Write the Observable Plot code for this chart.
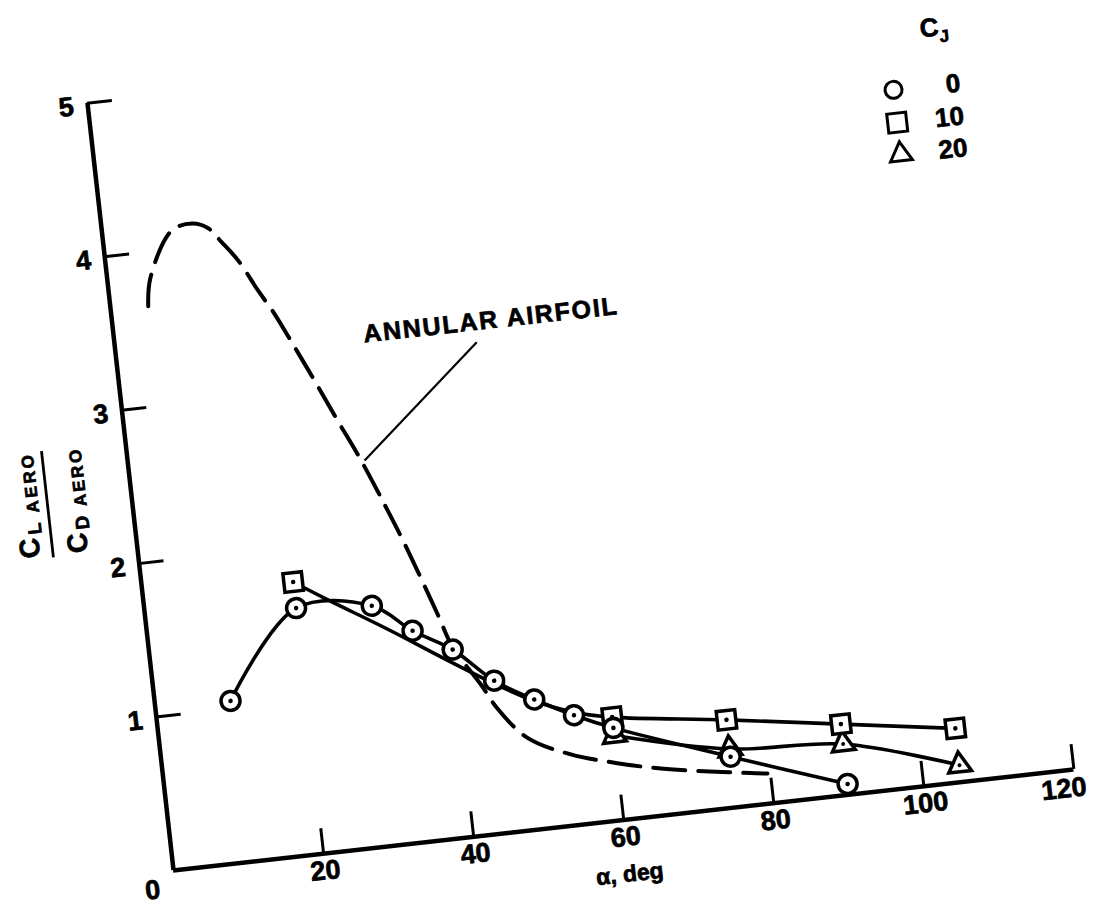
<!DOCTYPE html>
<html>
<head>
<meta charset="utf-8">
<script src="https://cdn.jsdelivr.net/npm/d3@7"></script>
<script src="https://cdn.jsdelivr.net/npm/@observablehq/plot@0.6"></script>
<style>
  html, body { margin: 0; padding: 0; background: #fff; overflow: hidden; width: 1095px; height: 912px; }
  #wrap { position: absolute; left: 0; top: 0; width: 1095px; height: 960px;
          transform-origin: 173px 870px; transform: rotate(-6.4deg); }
  svg { font-family: "Liberation Sans", Arial, sans-serif; font-weight: bold; }
  svg text { stroke: black; stroke-width: 0.7px; }
</style>
</head>
<body>
<div id="wrap"></div>
<script>
// ---- data (alpha in deg, C_L/C_D aero) ----
const alphaCJ0 = [10, 20, 30, 35, 40, 45, 50, 55, 60, 75, 90];
const ldCJ0    = [1.05, 1.60, 1.56, 1.37, 1.22, 0.99, 0.84, 0.71, 0.60, 0.33, 0.07];

const alphaCJ10 = [20, 60, 75, 90, 105];
const ldCJ10    = [1.77, 0.67, 0.57, 0.46, 0.35];
// faired curve drawn through the C_J = 10 data
const alphaCJ10Fair = [20, 24, 32, 39, 45, 50, 55, 60, 75, 90, 105];
const ldCJ10Fair    = [1.77, 1.64, 1.39, 1.16, 0.97, 0.83, 0.73, 0.67, 0.57, 0.46, 0.35];

const alphaCJ20 = [60, 75, 90, 105];
const ldCJ20    = [0.55, 0.38, 0.33, 0.11];

// annular airfoil (dashed curve)
const alphaAnnular = [5, 5.7, 9.2, 12, 14, 15.6, 17.5, 19.7, 21.5, 23.3, 25.8, 28.3, 30.6, 33.2, 35.2, 38.6, 40, 43.2, 45, 48.5, 54, 60, 66, 72, 77.4, 79.6];
const ldAnnular    = [3.65, 3.83, 4.12, 4.15, 4.11, 4.01, 3.88, 3.67, 3.51, 3.32, 3.05, 2.77, 2.52, 2.20, 1.94, 1.45, 1.24, 0.975, 0.81, 0.60, 0.46, 0.37, 0.30, 0.25, 0.21, 0.195];

// annotation
const annotationLabel = ["ANNULAR AIRFOIL"];
const annotationAlpha = [32.9];
const annotationLD    = [3.26];
const leaderFrom = [47.7, 3.18];
const leaderTo   = [31.2, 2.50];

const xTicks = [0, 20, 40, 60, 80, 100, 120];
const yTicks = [1, 2, 3, 4, 5];
const xLabel = "α, deg";
const legendTitle = "C";
const legendTitleSub = "J";
const legendValues = ["0", "10", "20"];
const legendSymbols = ["circle", "square", "triangle"];

// ---- tables ----
const zip = (a, b) => a.map((v, i) => ({alpha: v, ld: b[i]}));
const cj0 = zip(alphaCJ0, ldCJ0);
const cj10 = zip(alphaCJ10, ldCJ10);
const cj10Fair = zip(alphaCJ10Fair, ldCJ10Fair);
const cj20 = zip(alphaCJ20, ldCJ20);
const annular = zip(alphaAnnular, ldAnnular);

const W = 1095, H = 960, mL = 173, mT = 98, mB = 90, mR = 16;
const innerW = W - mL - mR, innerH = H - mT - mB;
const tickLen = 25;
const lastX = xTicks[xTicks.length - 1];

const chart = Plot.plot({
  width: W, height: H,
  marginLeft: mL, marginTop: mT, marginBottom: mB, marginRight: mR,
  x: {domain: [0, 120], axis: null},
  y: {domain: [0, 5], axis: null},
  style: {background: "white", color: "black", overflow: "visible"},
  marks: [
    // axes
    Plot.ruleY([0], {stroke: "black", strokeWidth: 4.5}),
    Plot.ruleX([0], {stroke: "black", strokeWidth: 4.5}),
    Plot.tickX(xTicks.filter(d => d > 0), {x: d => d, insetTop: innerH - tickLen, stroke: "black", strokeWidth: 3}),
    Plot.tickY(yTicks, {y: d => d, insetRight: innerW - tickLen, stroke: "black", strokeWidth: 3}),
    Plot.text(xTicks.filter(d => d > 0 && d < lastX), {x: d => d, frameAnchor: "bottom", dy: 26, text: d => String(d), fontSize: 27, fontWeight: "bold"}),
    Plot.text([lastX], {x: d => d, frameAnchor: "bottom", dx: -12, dy: 27, text: d => String(d), fontSize: 27, fontWeight: "bold"}),
    Plot.text([xTicks[0]], {x: d => d, frameAnchor: "bottom", dx: -23, dy: 26, text: d => String(d), fontSize: 27, fontWeight: "bold"}),
    Plot.text(yTicks, {y: d => d, frameAnchor: "left", dx: -14, dy: 2, textAnchor: "end", text: d => String(d), fontSize: 27, fontWeight: "bold"}),
    Plot.text([xLabel], {frameAnchor: "bottom", dy: 62, text: d => d, fontSize: 23, fontWeight: "bold"}),

    // annular airfoil dashed curve
    Plot.line(annular, {x: "alpha", y: "ld", curve: "catmull-rom", stroke: "black", strokeWidth: 4, strokeDasharray: "32,13"}),
    Plot.link([0], {x1: () => leaderFrom[0], y1: () => leaderFrom[1], x2: () => leaderTo[0], y2: () => leaderTo[1], stroke: "black", strokeWidth: 2.2}),
    Plot.text(annotationLabel, {x: (d, i) => annotationAlpha[i], y: (d, i) => annotationLD[i], text: d => d, textAnchor: "start", lineAnchor: "bottom", fontSize: 25, fontWeight: "bold"}),

    // curves
    Plot.line(cj10Fair, {x: "alpha", y: "ld", curve: "catmull-rom", stroke: "black", strokeWidth: 3.6}),
    Plot.line(cj20, {x: "alpha", y: "ld", curve: "catmull-rom", stroke: "black", strokeWidth: 3.6}),
    Plot.line(cj0, {x: "alpha", y: "ld", curve: "catmull-rom", stroke: "black", strokeWidth: 3.6}),

    // symbols
    Plot.dot(cj20, {x: "alpha", y: "ld", symbol: "triangle", r: 8.5, fill: "white", stroke: "black", strokeWidth: 3.5}),
    Plot.dot(cj20, {x: "alpha", y: "ld", r: 2, fill: "black"}),
    Plot.dot(cj10, {x: "alpha", y: "ld", symbol: "square", r: 10.5, fill: "white", stroke: "black", strokeWidth: 3.5}),
    Plot.dot(cj10, {x: "alpha", y: "ld", r: 2.3, fill: "black"}),
    Plot.dot(cj0, {x: "alpha", y: "ld", r: 9.5, fill: "white", stroke: "black", strokeWidth: 3.5}),
    Plot.dot(cj0, {x: "alpha", y: "ld", r: 2.3, fill: "black"})
  ]
});

document.getElementById("wrap").appendChild(chart);

const svg = d3.select(chart);

// letter spacing for the annotation text
svg.selectAll("text").filter(function() { return this.textContent === annotationLabel[0]; })
  .style("letter-spacing", "1.8px");

// y-axis label: C_L AERO / C_D AERO (fraction, rotated)
const yl = svg.append("g").attr("transform", "translate(89,493) rotate(-90)")
  .attr("font-family", "Liberation Sans, Arial, sans-serif").attr("font-weight", "bold");
yl.append("line").attr("x1", -53).attr("x2", 54).attr("y1", 0).attr("y2", 0)
  .attr("stroke", "black").attr("stroke-width", 2.8);
const num = yl.append("text").attr("text-anchor", "middle").attr("x", 0).attr("y", -13)
  .attr("textLength", 103).attr("lengthAdjust", "spacing");
num.append("tspan").attr("font-size", 28).text("C");
num.append("tspan").attr("font-size", 19).attr("dy", 4).text("L");
num.append("tspan").attr("font-size", 17).text(" AERO");
const den = yl.append("text").attr("text-anchor", "middle").attr("x", 0).attr("y", 35)
  .attr("textLength", 103).attr("lengthAdjust", "spacing");
den.append("tspan").attr("font-size", 28).text("C");
den.append("tspan").attr("font-size", 19).attr("dy", 4).text("D");
den.append("tspan").attr("font-size", 17).text(" AERO");

// legend (top right)
const lg = svg.append("g").attr("font-family", "Liberation Sans, Arial, sans-serif").attr("font-weight", "bold");
const lt = lg.append("text").attr("x", 1023).attr("y", 126).attr("text-anchor", "middle");
lt.append("tspan").attr("font-size", 26).text(legendTitle);
lt.append("tspan").attr("font-size", 17).attr("dy", 7).text(legendTitleSub);
const symMap = {circle: d3.symbolCircle, square: d3.symbolSquare, triangle: d3.symbolTriangle};
const symArea = {circle: Math.PI * 8.5 * 8.5, square: 19 * 19, triangle: Math.sqrt(3) / 4 * 22 * 22};
const rowY = [175, 208, 240];
legendValues.forEach((v, i) => {
  const s = legendSymbols[i];
  lg.append("path")
    .attr("transform", `translate(976,${rowY[i]})`)
    .attr("d", d3.symbol(symMap[s], symArea[s])())
    .attr("fill", "white").attr("stroke", "black").attr("stroke-width", 3);
  lg.append("text").attr("x", 1043).attr("y", rowY[i] + 9).attr("text-anchor", "end")
    .attr("font-size", 26).text(v);
});
</script>
</body>
</html>
